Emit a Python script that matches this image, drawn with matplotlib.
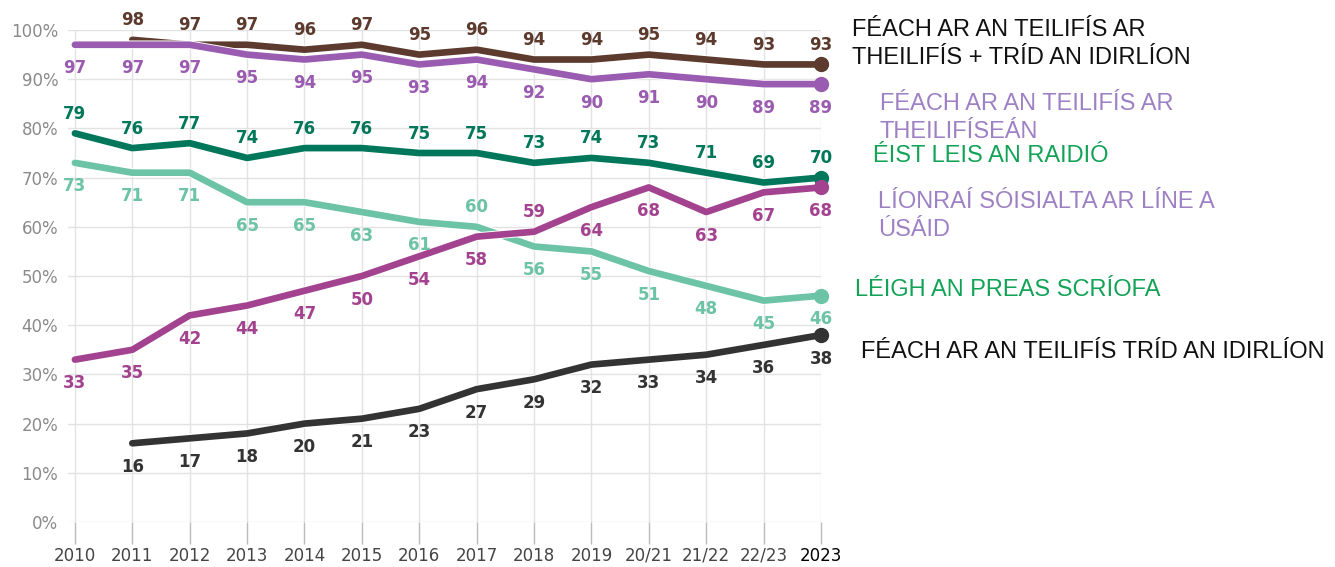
import matplotlib.pyplot as plt
import matplotlib.patheffects as pe

# === Daten ===
years = ["2010", "2011", "2012", "2013", "2014", "2015", "2016", "2017",
         "2018", "2019", "20/21", "21/22", "22/23", "2023"]

tv_tv_internet = [None, 98, 97, 97, 96, 97, 95, 96, 94, 94, 95, 94, 93, 93]
tv_tv_set = [97, 97, 97, 95, 94, 95, 93, 94, 92, 90, 91, 90, 89, 89]
radio = [79, 76, 77, 74, 76, 76, 75, 75, 73, 74, 73, 71, 69, 70]
press = [73, 71, 71, 65, 65, 63, 61, 60, 56, 55, 51, 48, 45, 46]
social = [33, 35, 42, 44, 47, 50, 54, 58, 59, 64, 68, 63, 67, 68]
tv_internet = [None, 16, 17, 18, 20, 21, 23, 27, 29, 32, 33, 34, 36, 38]

yticks = [0, 10, 20, 30, 40, 50, 60, 70, 80, 90, 100]

# Label über (+1) oder unter (-1) der Linie
press_pos = [-1] * 7 + [1] + [-1] * 6
social_pos = [-1] * 8 + [1] + [-1] * 5

series = [
    # werte, farbe, labelpos
    (press, "#6cc3a5", press_pos),
    (radio, "#00775a", [1] * 14),
    (tv_internet, "#333333", [-1] * 14),
    (tv_tv_internet, "#5c3b2e", [1] * 14),
    (tv_tv_set, "#9a5cb0", [-1] * 14),
    (social, "#a3438f", social_pos),
]

fig = plt.figure(figsize=(13.35, 5.67), dpi=100)
ax = fig.add_axes([68 / 1335, 1 - 522 / 567, (821 - 68) / 1335, (522 - 30) / 567])

for werte, farbe, pos in series:
    xs = [i for i, v in enumerate(werte) if v is not None]
    ys = [v for v in werte if v is not None]
    ax.plot(xs, ys, color=farbe, lw=4.8, solid_joinstyle="round", solid_capstyle="round",
            zorder=3, clip_on=False,
            path_effects=[pe.Stroke(linewidth=6.2, foreground="white"), pe.Normal()])
    ax.plot(xs[-1], ys[-1], "o", color=farbe, ms=10, zorder=4, clip_on=False)
    for x, y, p in zip(xs, ys, [pos[i] for i in xs]):
        off = 14 if p > 0 else -17
        ax.annotate(str(y), (x, y), xytext=(0, off), textcoords="offset points",
                    ha="center", va="center", fontsize=12, fontweight="bold",
                    color=farbe, zorder=5)

ax.set_xlim(-0.12, 13)
ax.set_ylim(0, 100)
ax.set_yticks(yticks)
ax.set_yticklabels([f"{t}%" for t in yticks])
ax.set_xticks(range(len(years)))
ax.set_xticklabels(years)
for s in ax.spines.values():
    s.set_visible(False)
ax.grid(True, color="#e2e2e2", lw=1)
ax.set_axisbelow(True)
ax.tick_params(axis="y", length=0, pad=7, labelsize=12, labelcolor="#8a8a8a")
ax.tick_params(axis="x", length=16, width=1, color="#bbbbbb", pad=2, labelsize=12,
               labelcolor="#444444")
ax.get_xticklabels()[-1].set_color("black")

# === Beschriftungen rechts ===
font = "Liberation Sans"
schwarz = "#111111"
lila = "#9e80c4"
gruen = "#12a356"
fs = 17
ls = 1.33
fig.text(852 / 1335, 1 - 44 / 567, "FÉACH AR AN TEILIFÍS AR\nTHEILIFÍS + TRÍD AN IDIRLÍON",
         family=font, fontsize=fs, color=schwarz, va="center", linespacing=ls)
fig.text(880 / 1335, 1 - 118 / 567, "FÉACH AR AN TEILIFÍS AR\nTHEILIFÍSEÁN",
         family=font, fontsize=fs, color=lila, va="center", linespacing=ls)
fig.text(873 / 1335, 1 - 156 / 567, "ÉIST LEIS AN RAIDIÓ",
         family=font, fontsize=fs, color=gruen, va="center")
fig.text(878 / 1335, 1 - 216 / 567, "LÍONRAÍ SÓISIALTA AR LÍNE A\nÚSÁID",
         family=font, fontsize=fs, color=lila, va="center", linespacing=ls)
fig.text(855 / 1335, 1 - 290 / 567, "LÉIGH AN PREAS SCRÍOFA",
         family=font, fontsize=fs, color=gruen, va="center")
fig.text(861 / 1335, 1 - 352 / 567, "FÉACH AR AN TEILIFÍS TRÍD AN IDIRLÍON",
         family=font, fontsize=fs, color=schwarz, va="center")

fig.savefig("out.png", dpi=100)
